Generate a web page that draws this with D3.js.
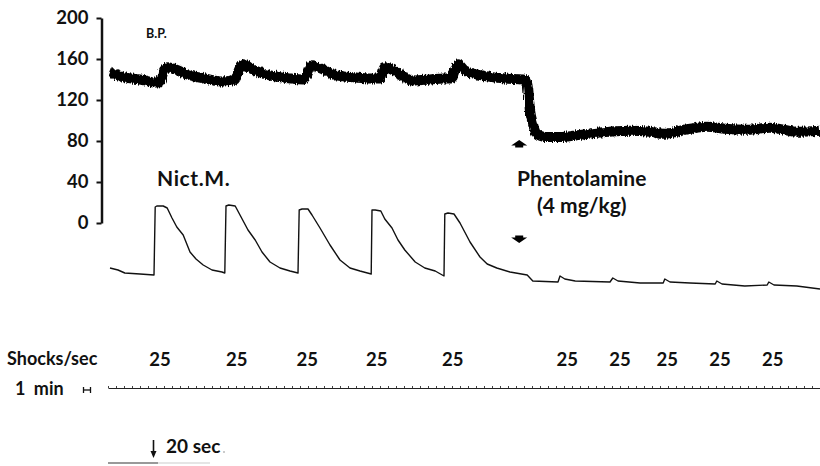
<!DOCTYPE html>
<html><head><meta charset="utf-8">
<script src="https://cdn.jsdelivr.net/npm/d3@7"></script>
<style>
html,body{margin:0;padding:0;background:#fff;}
text{font-family:Lato,"Open Sans",sans-serif;fill:#111;}
</style></head>
<body>
<svg id="c" width="820" height="466"></svg>
<script>
// ---- data ----
// time in minutes from start of record
const bpTime = [0.25,2.1,4,6.1,6.6,7,7.5,8.4,10.25,12.1,14.4,15.9,16.4,16.9,17.75,20.25,22.75,24.4,24.9,25.5,26.5,28.6,30.9,32.75,34,34.6,35.9,38.1,40.25,41.9,42.9,43.4,43.75,44.6,47.4,49.6,51.9,52.4,52.75,53.1,53.6,54.6,56.9,59,61.1,65.25,67.75,69.4,72.1,74.9,77.1,79.9,82.75,86.1,89];
const bpValue = [147,142,140,137,138,149,152,150,144,141,138,140,150,155,151,144,141,140,145,154,151,144,142,141,141,152,148,139,140,141,141,150,155,149,143,141,140,138,110,97,87,84,84,86,88,90,89,87,91,94,92,91,93,89,90];
const nmTime = [0.25,1.25,2.1,4,5.75,5.9,6.1,6.9,7.4,8,8.6,9.4,10.25,11,11.9,13,14.25,14.6,14.75,15.1,15.9,16.5,17.5,18.4,19.25,20.25,21.5,22.75,23.75,23.9,24.25,25,25.5,26.5,27.75,29,30.25,31.5,32.9,33,33.4,34.1,34.6,35.5,36.25,37.1,38.4,39.6,40.9,42,42.1,42.5,43.25,44,45.25,46.5,47.4,48.6,50.25,52.4,53.1,56.25,56.5,57.1,58.4,62.75,63.1,63.75,66.5,69.4,69.6,70.25,72.75,75.9,76.1,76.75,79.6,82.4,82.6,83.25,86.1,89];
const nmValue = [24,22,19,18,17,85,86,86,84,74,65,57,40,33,27,22,20,19,86,87,86,77,62,52,40,30,24,21,19,82,83,83,77,64,47,32,24,21,18,82,82,81,73,64,52,42,30,24,21,16,78,79,78,69,50,35,28,24,20,17,11,10,16,13,11,10,14,11,9,9,13,10,9,8,11,8,6,7,10,7,6,3];
const bpTicks = [0,40,80,120,160,200];
const shockTimes = [6.5,16.1,24.9,33.6,43.1,57.4,64,69.9,76.5,83.1];
const shockLabels = ["25","25","25","25","25","25","25","25","25","25"];
const drugTime = 51.4;

// ---- scales ----
const svg = d3.select("#c");
const x = d3.scaleLinear().domain([0,89]).range([108,820]);
const yBP = d3.scaleLinear().domain([0,200]).range([223,18]);
const yNM = d3.scaleLinear().domain([0,88]).range([292,204]);

// roughness filter for the B.P. band
const defs = svg.append("defs");
const f = defs.append("filter").attr("id","rough").attr("x","-5%").attr("y","-50%").attr("width","110%").attr("height","200%");
f.append("feTurbulence").attr("type","fractalNoise").attr("baseFrequency","0.9 0.12").attr("numOctaves",2).attr("seed",5).attr("result","n");
f.append("feDisplacementMap").attr("in","SourceGraphic").attr("in2","n").attr("scale",5).attr("xChannelSelector","R").attr("yChannelSelector","G");

// ---- y axis ----
const ax = svg.append("g").attr("transform","translate(101.5,0)")
  .call(d3.axisLeft(yBP).tickValues(bpTicks).tickSize(5).tickSizeOuter(0).tickPadding(8));
ax.select(".domain").attr("stroke","#111").attr("stroke-width",2.5);
ax.selectAll(".tick line").attr("stroke","#111").attr("stroke-width",2);
ax.selectAll(".tick text").attr("font-size",18.5).attr("font-weight",700).attr("fill","#111")
  .style("font-family","Lato,sans-serif");

// ---- B.P. trace ----
const bpData = bpTime.map((t,i)=>[t,bpValue[i]]);
svg.append("path").datum(bpData)
  .attr("d", d3.line().x(d=>x(d[0])).y(d=>yBP(d[1])).curve(d3.curveMonotoneX))
  .attr("fill","none").attr("stroke","#000").attr("stroke-width",10)
  .attr("stroke-linejoin","round").attr("stroke-linecap","butt")
  .attr("filter","url(#rough)");

// ---- Nict.M. trace ----
const nmData = nmTime.map((t,i)=>[t,nmValue[i]]);
svg.append("path").datum(nmData)
  .attr("d", d3.line().x(d=>x(d[0])).y(d=>yNM(d[1])))
  .attr("fill","none").attr("stroke","#111").attr("stroke-width",1.4)
  .attr("stroke-linejoin","round");

// ---- labels ----
svg.append("text").attr("x",146).attr("y",38).attr("font-size",12.5).attr("font-weight",700).text("B.P.");
svg.append("text").attr("x",157).attr("y",186).attr("font-size",21).attr("font-weight",700).attr("letter-spacing",0.6).text("Nict.M.");
svg.append("text").attr("x",517).attr("y",186).attr("font-size",21).attr("font-weight",700).text("Phentolamine");
svg.append("text").attr("x",537).attr("y",213).attr("font-size",21).attr("font-weight",700).text("(4 mg/kg)");

// drug markers
const up = "M0,-4L8,1.5L4,1.5L4,3.5L-4,3.5L-4,1.5L-8,1.5Z";
svg.append("path").attr("d",up).attr("transform",`translate(${x(drugTime)},144)`).attr("fill","#000");
svg.append("path").attr("d",up).attr("transform",`translate(${x(drugTime)},239) scale(1,-1)`).attr("fill","#000");

// ---- shocks ----
svg.append("text").attr("x",7).attr("y",365).attr("font-size",18).attr("font-weight",700).text("Shocks/sec");
svg.selectAll(".shk").data(shockTimes).join("text").attr("class","shk")
  .attr("x",d=>x(d)).attr("y",366).attr("text-anchor","middle")
  .attr("font-size",18.5).attr("font-weight",700).text((d,i)=>shockLabels[i]);

// ---- time line ----
const tl = svg.append("g").attr("transform","translate(0,388)")
  .call(d3.axisTop(x).ticks(89).tickSize(2).tickSizeOuter(0).tickFormat(""));
tl.select(".domain").attr("stroke","#222").attr("stroke-width",1.2);
tl.selectAll(".tick line").attr("stroke","#444").attr("stroke-width",1);

svg.append("text").attr("x",15).attr("y",395).attr("font-size",18).attr("font-weight",700).attr("word-spacing",4).text("1 min");
const mb = svg.append("g").attr("stroke","#111").attr("stroke-width",1.3);
mb.append("line").attr("x1",83).attr("x2",91).attr("y1",390).attr("y2",390);
mb.append("line").attr("x1",83.5).attr("x2",83.5).attr("y1",387).attr("y2",393);
mb.append("line").attr("x1",90.5).attr("x2",90.5).attr("y1",387).attr("y2",393);

// 20 sec marker
const ar = svg.append("g");
ar.append("line").attr("x1",153.5).attr("x2",153.5).attr("y1",440).attr("y2",453).attr("stroke","#111").attr("stroke-width",1.6);
ar.append("path").attr("d","M150.5,451L156.5,451L153.5,458Z").attr("fill","#111");
svg.append("text").attr("x",166).attr("y",453).attr("font-size",19).attr("font-weight",700).text("20 sec");
svg.append("circle").attr("cx",224).attr("cy",452).attr("r",0.8).attr("fill","#888");
svg.append("line").attr("x1",108).attr("x2",158).attr("y1",463).attr("y2",463).attr("stroke","#777").attr("stroke-width",1.5);
svg.append("line").attr("x1",158).attr("x2",210).attr("y1",463).attr("y2",463).attr("stroke","#ddd").attr("stroke-width",1.5);
</script>
</body></html>
